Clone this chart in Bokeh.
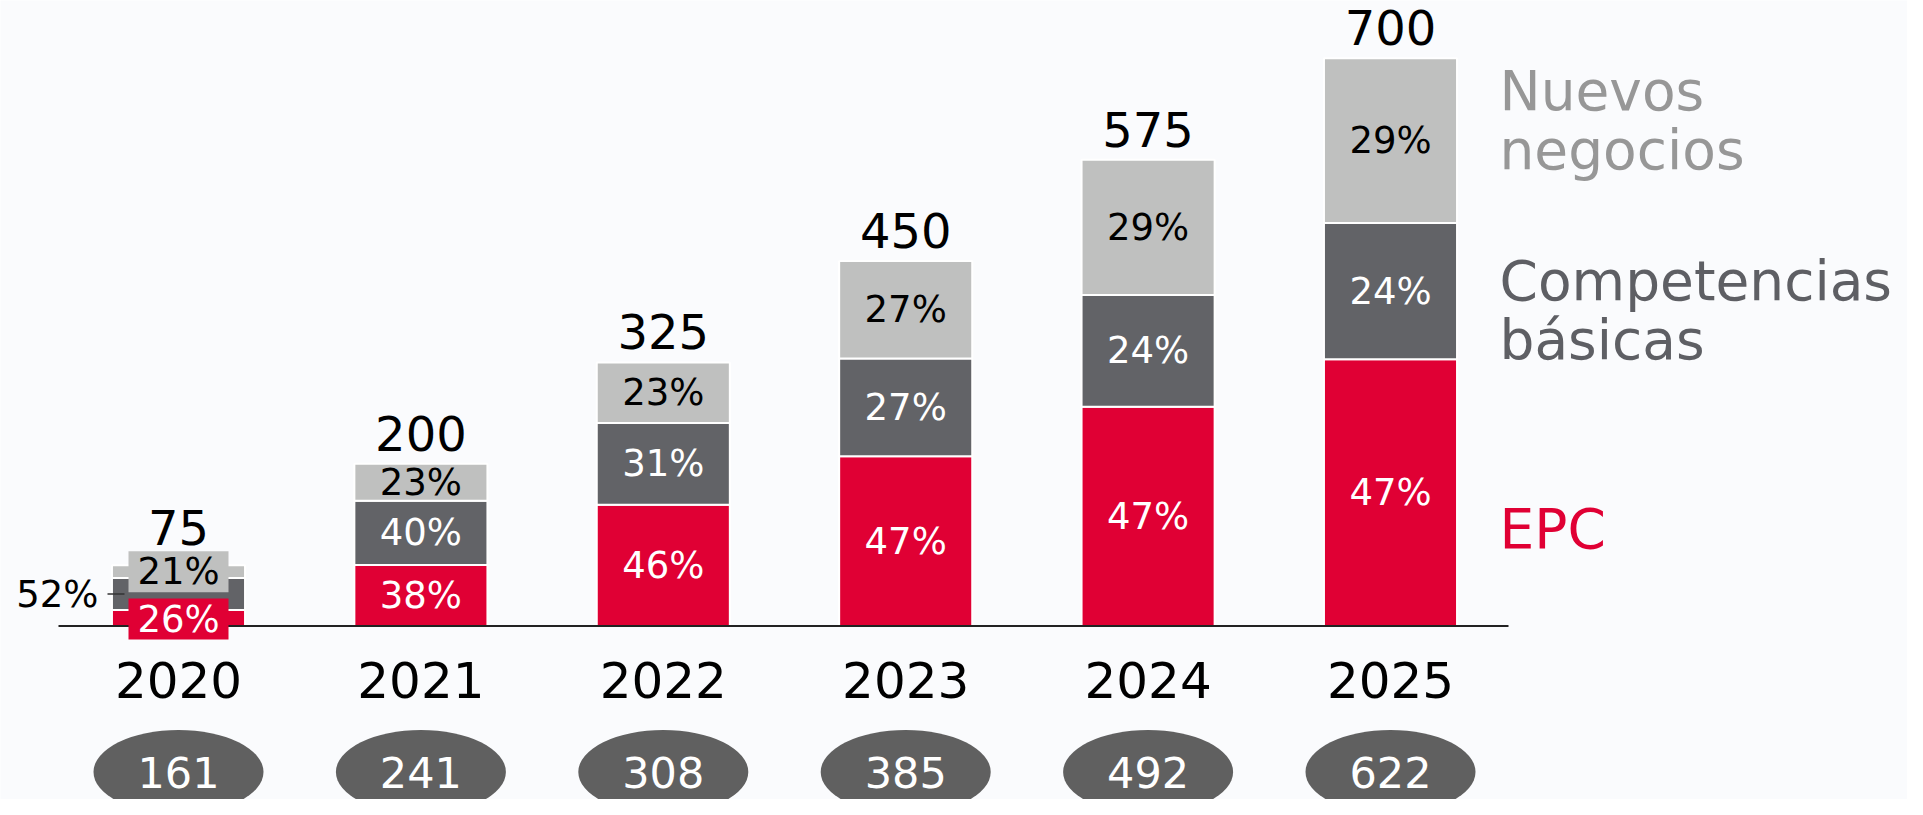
from bokeh.plotting import figure
from bokeh.models import Range1d
from bokeh.core.properties import value
from bokeh.embed import file_html
from bokeh.resources import INLINE

# ---- data ----
years = [2020, 2021, 2022, 2023, 2024, 2025]
year_labels = ["2020", "2021", "2022", "2023", "2024", "2025"]
totals = [75, 200, 325, 450, 575, 700]
epc_pct = [26, 38, 46, 47, 47, 47]
comp_pct = [52, 40, 31, 27, 24, 24]
nuevos_pct = [21, 23, 23, 27, 29, 29]
headcount = [161, 241, 308, 385, 492, 622]
legend_nuevos = ["Nuevos", "negocios"]
legend_comp = ["Competencias", "básicas"]
legend_epc = ["EPC"]

# ---- styling ----
RED = "#E00034"
DARK = "#626367"
LIGHT = "#BFC0BF"
ELL = "#606060"
FONT = value("DejaVu Sans")

W, H = 1907, 799
PX_X = 242.4      # screen px per year
PX_Y = 0.811      # screen px per unit
BASE_PX = 625.5   # baseline position from top of figure
x0 = years[0] - 178 / PX_X

def dy(px):
    return px / PX_Y

def dx(px):
    return px / PX_X

p = figure(width=W, height=H,
           x_range=Range1d(x0, x0 + W / PX_X),
           y_range=Range1d(-(H - BASE_PX) / PX_Y, BASE_PX / PX_Y),
           output_backend="svg", toolbar_location=None,
           x_axis_location=None, y_axis_location=None,
           min_border=0, title=None)
p.grid.visible = False
p.outline_line_color = None
p.background_fill_color = "#fafbfd"
p.border_fill_color = "#fafbfd"

# stacked segments
epc_h, comp_h, nue_h = [], [], []
for t, e, c, n in zip(totals, epc_pct, comp_pct, nuevos_pct):
    s = e + c + n
    epc_h.append(t * e / s)
    comp_h.append(t * c / s)
    nue_h.append(t * n / s)
epc_top = epc_h
comp_top = [a + b for a, b in zip(epc_h, comp_h)]
nue_top = [a + b for a, b in zip(comp_top, nue_h)]

BW = 0.549
p.vbar(x=years, bottom=0, top=epc_top, width=BW, fill_color=RED, line_color="white", line_width=2)
p.vbar(x=years, bottom=epc_top, top=comp_top, width=BW, fill_color=DARK, line_color="white", line_width=2)
p.vbar(x=years, bottom=comp_top, top=nue_top, width=BW, fill_color=LIGHT, line_color="white", line_width=2)

# baseline
p.line(x=[years[0] - dx(120), years[-1] + dx(118)], y=[0, 0], line_color="#222222", line_width=2)

# percent labels (2021+ inside segments)
epc_c = [h / 2 for h in epc_h]
comp_c = [a + b / 2 for a, b in zip(epc_top, comp_h)]
nue_c = [a + b / 2 for a, b in zip(comp_top, nue_h)]

txt = dict(text_font=FONT, text_align="center", text_baseline="middle", text_font_size="37px")
p.text(x=years[1:], y=epc_c[1:], text=[f"{v}%" for v in epc_pct[1:]], text_color="white", **txt)
p.text(x=years[1:], y=comp_c[1:], text=[f"{v}%" for v in comp_pct[1:]], text_color="white", **txt)
p.text(x=years[1:], y=nue_c[1:], text=[f"{v}%" for v in nuevos_pct[1:]], text_color="black", **txt)

# 2020: boxed labels + callout
BOX_H = 41
y_nue0 = nue_c[0]
y_epc0 = dy(7)
p.rect(x=[years[0]], y=[y_nue0], width=100, height=BOX_H, width_units="screen", height_units="screen",
       fill_color=LIGHT, line_color=None)
p.rect(x=[years[0]], y=[y_epc0], width=100, height=BOX_H, width_units="screen", height_units="screen",
       fill_color=RED, line_color=None)
p.text(x=[years[0]], y=[y_nue0], text=[f"{nuevos_pct[0]}%"], text_color="black", **txt)
p.text(x=[years[0]], y=[y_epc0], text=[f"{epc_pct[0]}%"], text_color="white", **txt)
p.segment(x0=[years[0] - dx(71)], y0=[comp_c[0]], x1=[years[0] - dx(54)], y1=[comp_c[0]],
          line_color="#333333", line_width=1.5)
p.text(x=[years[0] - dx(80)], y=[comp_c[0]], text=[f"{comp_pct[0]}%"], text_color="black",
       text_font=FONT, text_align="right", text_baseline="middle", text_font_size="37px")

# totals above bars (2020 sits above its label box)
tot_y = [t + dy(30.5) for t in nue_top]
tot_y[0] = y_nue0 + dy(BOX_H / 2 + 24)
p.text(x=years, y=tot_y, text=[str(t) for t in totals], text_color="black",
       text_font=FONT, text_align="center", text_baseline="middle", text_font_size="48px")

# year labels
p.text(x=years, y=[-dy(53.5)] * len(years), text=year_labels, text_color="black",
       text_font=FONT, text_align="center", text_baseline="middle", text_font_size="50px")

# headcount ellipses
ey = [-dy(146)] * len(years)
p.ellipse(x=years, y=ey, width=170, height=84, width_units="screen", height_units="screen",
          fill_color=ELL, line_color=None)
p.text(x=years, y=ey, text=[str(v) for v in headcount], text_color="white",
       text_font=FONT, text_align="center", text_baseline="middle", text_font_size="43px")

# category labels on the right
lx = years[-1] + dx(109)
leg = dict(text_font=FONT, text_align="left", text_baseline="alphabetic", text_font_size="55px")
p.text(x=[lx, lx], y=[dy(BASE_PX - 90), dy(BASE_PX - 149)], text=legend_nuevos, text_color="#979797", **leg)
p.text(x=[lx, lx], y=[dy(BASE_PX - 280), dy(BASE_PX - 339)], text=legend_comp, text_color="#5E5F64", **leg)
p.text(x=[lx], y=[dy(BASE_PX - 528)], text=legend_epc, text_color=RED, **leg)

open("out.html", "w").write(file_html(p, INLINE))
